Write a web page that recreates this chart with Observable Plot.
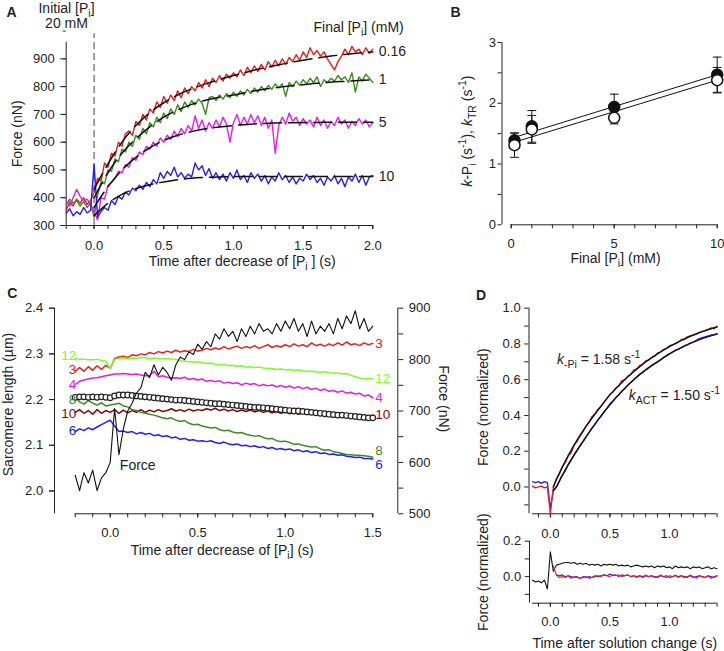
<!DOCTYPE html>
<html>
<head>
<meta charset="utf-8">
<script src="https://cdn.jsdelivr.net/npm/d3@7"></script>
<script src="https://cdn.jsdelivr.net/npm/@observablehq/plot@0.6"></script>
<style>
  body { margin: 0; background: #fff; }
  #fig { position: relative; width: 724px; height: 651px; overflow: hidden; background: #fff; }
  #fig svg { position: absolute; left: 0; top: 0; }
</style>
</head>
<body>
<div id="fig"></div>
<script>
// ================= DATA =================
// ---- Panel A: force traces after [Pi] jump (nN), sampled every 0.025 s from -0.2 s
const aNames = ["0.16", "1", "5", "10"];
const aT0 = -0.2, aDt = 0.025;
const aRed = [355,385,370,395,380,400,375,390,420,470,460,525,510,560,550,600,585,630,640,625,675,660,700,680,720,705,745,725,765,740,770,750,785,760,795,775,800,785,815,795,825,800,830,815,840,820,845,830,850,835,860,840,870,850,875,855,880,860,890,870,895,875,900,880,905,890,915,895,925,905,940,915,930,910,925,900,880,860,890,910,935,915,945,925,935,915,940,920,935];
const aGreen = [375,395,380,390,370,385,365,380,330,410,455,450,500,495,540,530,575,565,600,585,625,610,650,630,670,655,690,670,705,685,720,700,735,710,745,725,750,735,755,740,700,760,765,750,770,755,775,760,780,765,785,770,790,775,795,780,800,785,805,790,810,795,810,765,815,800,820,805,825,810,830,815,835,800,825,815,830,820,840,825,835,815,850,780,835,820,845,830,815];
const aMagenta = [390,370,400,430,405,385,395,375,350,320,400,395,445,455,470,495,490,520,510,545,535,565,555,585,575,600,585,615,600,625,610,640,620,650,630,660,640,695,650,680,640,670,650,680,655,690,665,600,670,700,660,690,665,700,670,695,660,690,650,680,560,660,690,665,705,675,690,660,685,665,680,655,690,660,680,650,675,660,690,665,680,650,675,660,685,665,680,655,670];
const aBlue = [345,360,335,350,340,365,345,355,520,330,350,365,355,390,375,405,395,420,410,435,425,445,430,455,440,465,450,490,470,495,480,510,475,490,470,485,475,525,500,515,480,505,470,490,465,485,460,490,470,500,465,480,455,490,470,485,460,480,450,475,460,490,465,480,455,475,450,470,460,485,465,480,455,470,445,475,460,480,450,470,440,475,460,485,455,480,445,475,480];
// exponential fits (dashed), every 0.1 s from 0
const aFitT0 = 0, aFitDt = 0.1;
const aFitRed = [430,522,600,660,706,742,770,792,810,826,840,853,865,876,886,895,903,910,916,921,925];
const aFitGreen = [400,490,560,612,655,690,716,736,751,762,770,780,789,796,802,807,812,816,819,822,824];
const aFitMagenta = [365,440,500,545,580,606,625,638,648,655,660,664,667,669,670,671,671,672,672,672,672];
const aFitBlue = [335,380,412,433,447,457,465,470,473,475,476,476,476,476,476,476,476,476,476,476,476];
const aXDomain = [-0.2, 2.0], aYDomain = [300, 960];
const aXTickLabels = [0, 0.5, 1, 1.5, 2];
const aYTickLabels = [300, 400, 500, 600, 700, 800, 900];

// ---- Panel B: rate constants vs final [Pi]
const bFinalPi = [0.16, 1, 5, 10];
const bKPi = [1.39, 1.62, 1.94, 2.47];
const bKPiErr = [0.12, 0.26, 0.21, 0.29];
const bKTR = [1.31, 1.57, 1.76, 2.38];
const bKTRErr = [0.20, 0.23, 0.10, 0.21];
const bFitX = [0.16, 10];
const bFitKPi = [1.44, 2.47];
const bFitKTR = [1.36, 2.38];
const bXDomain = [0, 10], bYDomain = [0, 3];
const bXTickLabels = [0, 5, 10];
const bYTickLabels = [0, 1, 2, 3];

// ---- Panel C: sarcomere lengths (µm) and force (nN), every 0.025 s from -0.2 s
const cNames = ["3", "12", "4", "10", "8", "6"];
const cT0 = -0.2, cDt = 0.025;
const cS3 = [2.262,2.270,2.262,2.272,2.264,2.274,2.266,2.275,2.268,2.290,2.293,2.295,2.292,2.298,2.296,2.300,2.298,2.303,2.300,2.305,2.302,2.306,2.303,2.308,2.304,2.307,2.305,2.310,2.306,2.308,2.312,2.309,2.313,2.310,2.316,2.311,2.314,2.317,2.312,2.316,2.313,2.318,2.312,2.316,2.320,2.314,2.318,2.315,2.320,2.316,2.322,2.317,2.320,2.316,2.324,2.318,2.321,2.317,2.322,2.318,2.324,2.319,2.326,2.320,2.322,2.318,2.324,2.320,2.323];
const cS12 = [2.290,2.288,2.288,2.287,2.287,2.288,2.286,2.284,2.268,2.288,2.290,2.291,2.290,2.291,2.290,2.292,2.291,2.290,2.291,2.290,2.289,2.290,2.289,2.288,2.285,2.284,2.283,2.282,2.283,2.281,2.279,2.280,2.277,2.276,2.277,2.274,2.275,2.273,2.274,2.271,2.272,2.270,2.271,2.269,2.268,2.268,2.266,2.267,2.265,2.266,2.264,2.265,2.263,2.262,2.262,2.261,2.260,2.261,2.259,2.258,2.258,2.256,2.257,2.253,2.250,2.247,2.245,2.246,2.246];
const cS4 = [2.233,2.240,2.243,2.245,2.247,2.248,2.250,2.252,2.254,2.256,2.256,2.257,2.256,2.255,2.256,2.254,2.252,2.252,2.262,2.250,2.252,2.249,2.247,2.248,2.246,2.249,2.244,2.246,2.243,2.245,2.240,2.242,2.239,2.241,2.236,2.238,2.235,2.237,2.232,2.236,2.233,2.235,2.230,2.233,2.230,2.232,2.228,2.231,2.227,2.230,2.225,2.228,2.224,2.227,2.222,2.225,2.220,2.223,2.218,2.220,2.216,2.219,2.214,2.216,2.212,2.214,2.208,2.210,2.204];
const cS10 = [2.172,2.178,2.170,2.176,2.168,2.178,2.170,2.176,2.172,2.178,2.170,2.177,2.171,2.176,2.172,2.178,2.172,2.177,2.173,2.178,2.174,2.176,2.180,2.175,2.178,2.174,2.179,2.175,2.178,2.176,2.180,2.177,2.181,2.176,2.179,2.175,2.178,2.174,2.177,2.174,2.177,2.173,2.176,2.172,2.175,2.171,2.174,2.170,2.173,2.169,2.172,2.168,2.171,2.168,2.170,2.167,2.170,2.166,2.169,2.166,2.168,2.165,2.167,2.164,2.167,2.163,2.166,2.164,2.166];
const cS8 = [2.205,2.195,2.190,2.198,2.192,2.188,2.193,2.186,2.188,2.190,2.192,2.186,2.184,2.178,2.176,2.172,2.170,2.168,2.166,2.163,2.160,2.158,2.160,2.155,2.152,2.154,2.148,2.145,2.146,2.142,2.140,2.138,2.139,2.134,2.132,2.133,2.129,2.127,2.128,2.124,2.122,2.120,2.121,2.117,2.114,2.115,2.110,2.108,2.109,2.106,2.102,2.103,2.100,2.098,2.096,2.097,2.092,2.089,2.090,2.086,2.084,2.082,2.080,2.079,2.078,2.078,2.077,2.076,2.074];
const cS6 = [2.130,2.136,2.132,2.138,2.134,2.140,2.145,2.150,2.155,2.142,2.130,2.131,2.128,2.130,2.125,2.128,2.124,2.126,2.121,2.123,2.119,2.121,2.116,2.118,2.113,2.115,2.111,2.112,2.109,2.110,2.108,2.110,2.106,2.104,2.107,2.103,2.101,2.103,2.099,2.100,2.097,2.099,2.095,2.097,2.093,2.095,2.091,2.093,2.090,2.092,2.088,2.090,2.086,2.088,2.084,2.086,2.082,2.083,2.080,2.081,2.078,2.079,2.076,2.075,2.073,2.074,2.071,2.071,2.070];
const cAvg = [2.205,2.206,2.206,2.205,2.206,2.205,2.206,2.205,2.204,2.208,2.210,2.210,2.210,2.209,2.208,2.207,2.206,2.205,2.204,2.203,2.202,2.201,2.200,2.199,2.199,2.198,2.197,2.196,2.195,2.194,2.193,2.192,2.191,2.191,2.190,2.189,2.188,2.187,2.186,2.185,2.184,2.183,2.183,2.182,2.181,2.180,2.179,2.178,2.177,2.176,2.175,2.175,2.174,2.173,2.172,2.171,2.170,2.169,2.168,2.167,2.166,2.166,2.165,2.164,2.163,2.162,2.161,2.160,2.160];
const cForce = [575,545,580,560,585,545,570,580,600,705,615,665,700,715,735,745,775,765,790,770,785,775,760,790,805,800,815,810,830,820,835,825,850,840,860,845,855,835,860,845,865,850,870,855,860,850,870,855,875,860,880,855,870,845,875,850,865,855,870,850,880,860,885,870,895,860,880,855,865];
const cXDomain = [-0.2, 1.5], cYDomain = [1.95, 2.4], cForceDomain = [500, 900];
const cXTickLabels = [0, 0.5, 1, 1.5];
const cYTickLabels = [2.0, 2.1, 2.2, 2.3, 2.4];
const cForceTickLabels = [500, 600, 700, 800, 900];

// ---- Panel D: normalized force, every 0.025 s from -0.15 s
const dT0 = -0.15, dDt = 0.025;
const dRed = [0.005,-0.005,0.0,0.005,-0.005,0.0,-0.15,0.00,0.045,0.07,0.115,0.135,0.175,0.19,0.235,0.255,0.285,0.31,0.34,0.36,0.395,0.41,0.435,0.45,0.475,0.495,0.52,0.53,0.555,0.565,0.595,0.60,0.62,0.63,0.655,0.66,0.68,0.685,0.705,0.71,0.725,0.73,0.75,0.755,0.77,0.775,0.79,0.795,0.80,0.81,0.825,0.825,0.84,0.845,0.85,0.855,0.865,0.87,0.875,0.88,0.89,0.885,0.90];
const dBlue = [0.03,0.025,0.03,0.02,0.03,0.025,-0.12,-0.02,0.0,0.035,0.065,0.09,0.125,0.15,0.18,0.205,0.23,0.255,0.28,0.305,0.33,0.35,0.375,0.395,0.42,0.44,0.465,0.48,0.50,0.515,0.535,0.55,0.57,0.585,0.60,0.615,0.63,0.64,0.655,0.665,0.68,0.69,0.70,0.71,0.725,0.735,0.745,0.755,0.765,0.77,0.78,0.79,0.795,0.805,0.81,0.82,0.83,0.835,0.84,0.845,0.85,0.852,0.858];
const dFitT = [0.025,0.05,0.1,0.15,0.2,0.3,0.4,0.5,0.6,0.7,0.8,0.9,1.0,1.1,1.2,1.3,1.4];
const dFitRed = [0.0,0.04,0.11,0.175,0.235,0.34,0.43,0.515,0.585,0.645,0.70,0.745,0.785,0.82,0.85,0.875,0.895];
const dFitBlue = [-0.02,0.0,0.065,0.125,0.18,0.28,0.375,0.46,0.535,0.60,0.655,0.70,0.745,0.78,0.81,0.835,0.855];
// residuals (lower D)
const dResBlack = [-0.02,-0.03,-0.025,-0.035,-0.02,-0.07,0.14,0.03,0.065,0.07,0.075,0.08,0.08,0.075,0.08,0.07,0.075,0.07,0.075,0.065,0.07,0.065,0.07,0.06,0.07,0.065,0.07,0.065,0.07,0.06,0.065,0.06,0.065,0.055,0.06,0.065,0.06,0.055,0.06,0.055,0.06,0.05,0.06,0.055,0.06,0.05,0.055,0.045,0.06,0.05,0.055,0.05,0.055,0.045,0.055,0.05,0.055,0.045,0.05,0.055,0.045,0.05,0.045];
const dResRedT0 = 0.025;
const dResRed = [0.06,0.01,-0.005,0.0,-0.005,0.005,-0.01,0.0,-0.005,-0.01,-0.005,0.0,-0.01,-0.005,0.0,0.005,0.0,0.01,0.005,0.0,0.01,0.005,0.01,0.0,0.005,0.01,0.0,0.005,-0.005,0.005,0.0,0.01,0.0,0.005,-0.005,0.0,0.01,0.0,-0.005,0.005,0.0,0.01,-0.005,0.005,0.0,-0.005,0.01,0.0,-0.01,0.005,0.0,-0.005,0.005,-0.01,0.0,0.005];
const dResBlueT0 = 0.05;
const dResBlue = [0.01,0.005,0.01,0.0,0.005,0.0,-0.005,0.0,-0.01,0.0,-0.005,0.0,-0.005,0.005,0.0,0.005,0.01,0.005,0.015,0.005,0.01,0.0,0.01,0.005,0.01,0.0,0.005,0.0,0.005,-0.005,0.005,0.0,0.005,0.0,-0.005,0.005,0.0,0.005,-0.005,0.0,0.005,0.0,0.005,-0.005,0.0,0.005,-0.005,0.0,0.005,0.0,-0.005,0.005,0.0,-0.005,0.005];
const dXDomain = [-0.15, 1.4], dYDomain = [-0.15, 1.0], dResDomain = [-0.15, 0.2];
const dXTickLabels = [0, 0.5, 1];
const dYTickLabels = [0, 0.2, 0.4, 0.6, 0.8, 1.0];
const dResTickLabels = [0, 0.2];

// ================= STYLE / LAYOUT =================
const INK = "#222";
const FONT = "'Liberation Sans', Arial, Helvetica, sans-serif";
const W = 724, H = 651;
const colA = {"0.16": "#e0201c", "1": "#3f8a1e", "5": "#e41ee4", "10": "#2a1cf2"};
const colC = {"3": "#e02424", "12": "#7dfa2a", "4": "#e01ee0", "10": "#7a0a0a", "8": "#3d8a26", "6": "#2020f0"};
const frameA = {left: 65.7, right: 372.3, top: 41.7, bottom: 225};
const frameB = {left: 510.7, right: 716.7, top: 42, bottom: 224.3};
const frameC = {left: 74.7, right: 372.3, top: 307.7, bottom: 513.3};
const frameD1 = {left: 532, right: 716.6, top: 307.7, bottom: 513.3};
const frameD2 = {left: 532, right: 716.6, top: 540.7, bottom: 602.7};

const series = (vals, t0, dt) => vals.map((v, i) => ({t: t0 + i * dt, v}));
const byStep = (a, b, s) => d3.range(Math.round(a / s), Math.round(b / s) + 1).map(i => +(i * s).toFixed(4));
const fmt1 = d3.format(".1f");
const fmt0 = d3.format("d");
const blank = () => "";

function base(frame, xDomain, yDomain, marks) {
  return Plot.plot({
    width: W, height: H,
    marginLeft: frame.left, marginRight: W - frame.right,
    marginTop: frame.top, marginBottom: H - frame.bottom,
    x: {domain: xDomain}, y: {domain: yDomain},
    style: {background: "transparent", overflow: "visible", fontFamily: FONT, fontSize: "13px", color: INK},
    marks
  });
}
function axX(ticks, labeled, {pad = 10.5, size = 4, fmt = fmt1} = {}) {
  return Plot.axisX(ticks, {anchor: "bottom", tickSize: size, tickPadding: pad, tickFormat: labeled ? fmt : blank, label: null, fontSize: 13});
}
function axY(ticks, labeled, {pad = 5, size = 5, fmt = fmt1, dx = 0, anchor = "left"} = {}) {
  return Plot.axisY(ticks, {anchor, tickSize: size, tickPadding: pad, tickFormat: labeled ? fmt : blank, label: null, fontSize: 13, dx});
}
function note(s, o) {
  return Plot.text([s], {text: d => d, fontSize: 14, fill: INK, textAnchor: "middle", lineAnchor: "middle", ...o});
}
const capSymbol = {draw(ctx, size) { const w = Math.sqrt(size / Math.PI); ctx.moveTo(-w, 0); ctx.lineTo(w, 0); }};

const fig = document.getElementById("fig");

// ================= PANEL A =================
const aTraces = [aRed, aGreen, aMagenta, aBlue];
const aFits = [aFitRed, aFitGreen, aFitMagenta, aFitBlue];
fig.append(base(frameA, aXDomain, aYDomain, [
  Plot.ruleX([aXDomain[0]], {stroke: INK}),
  Plot.ruleY([aYDomain[0]], {stroke: INK}),
  axX(byStep(-0.2, 2.0, 0.1), false),
  axX(aXTickLabels, true, {pad: 11}),
  axY(aYTickLabels, true, {size: 5.5, pad: 6, fmt: fmt0}),
  axY(byStep(350, 950, 100), false, {size: 3}),
  Plot.ruleX([0], {y1: aYDomain[0], y2: 990, stroke: "#444", strokeDasharray: "7,4"}),
  ...aTraces.map((vals, s) => Plot.line(series(vals, aT0, aDt), {x: "t", y: "v", stroke: colA[aNames[s]], strokeWidth: 1.4})),
  ...aFits.map(vals => Plot.line(series(vals, aFitT0, aFitDt), {x: "t", y: "v", stroke: "#111", strokeWidth: 1.5, strokeDasharray: "18,7", curve: "monotone-x"})),
  Plot.text(aNames.map((n, s) => ({n, t: aFitT0 + (aFits[s].length - 1) * aFitDt, v: aFits[s][aFits[s].length - 1]})),
    {x: "t", y: "v", text: "n", dx: 6, textAnchor: "start", lineAnchor: "middle", fontSize: 14, fill: INK}),
  note("A", {frameAnchor: "top-left", dx: -54.7, dy: -30, fontWeight: "bold", fontSize: 14}),
  note("Initial [P_{i}]", {frameAnchor: "top-left", dx: 0.3, dy: -33.4}),
  note("20 mM", {frameAnchor: "top-left", dx: 0.3, dy: -18.4}),
  note("Final [P_{i}] (mM)", {frameAnchor: "top-left", dx: 247.3, dy: -14.4, textAnchor: "start"}),
  note("Force (nN)", {frameAnchor: "left", rotate: -90, dx: -49}),
  note("Time after decrease of [P_{i} ] (s)", {frameAnchor: "bottom", dx: 22.7, dy: 35.7})
]));

// ================= PANEL B =================
const bRows = (ys, es) => bFinalPi.map((x, i) => ({x, y: ys[i], e: es[i]}));
const bFilled = bRows(bKPi, bKPiErr), bOpen = bRows(bKTR, bKTRErr);
const errMarks = rows => [
  Plot.ruleX(rows, {x: "x", y1: d => d.y - d.e, y2: d => d.y + d.e, stroke: "#111", strokeWidth: 1}),
  Plot.dot(rows, {x: "x", y: d => d.y + d.e, symbol: capSymbol, r: 4.4, fill: "none", stroke: "#111", strokeWidth: 1}),
  Plot.dot(rows, {x: "x", y: d => d.y - d.e, symbol: capSymbol, r: 4.4, fill: "none", stroke: "#111", strokeWidth: 1})
];
fig.append(base(frameB, bXDomain, bYDomain, [
  Plot.ruleX([bXDomain[0]], {dx: -9.2, stroke: INK}),
  Plot.ruleY([bYDomain[0]], {stroke: INK}),
  axX(byStep(0, 10, 1), false),
  axX(bXTickLabels, true, {pad: 10, fmt: fmt0}),
  axY(bYTickLabels, true, {size: 4, pad: 2, fmt: fmt0, dx: -9.2}),
  axY([0.5, 1.5, 2.5], false, {size: 4, dx: -9.2}),
  ...errMarks(bFilled), ...errMarks(bOpen),
  Plot.line(bFitX.map((x, i) => ({x, y: bFitKPi[i]})), {x: "x", y: "y", stroke: "#111", strokeWidth: 1}),
  Plot.line(bFitX.map((x, i) => ({x, y: bFitKTR[i]})), {x: "x", y: "y", stroke: "#111", strokeWidth: 1}),
  Plot.dot(bFilled, {x: "x", y: "y", r: 5.5, fill: "#111", stroke: "#111"}),
  Plot.dot(bOpen, {x: "x", y: "y", r: 5.5, fill: "white", stroke: "#111", strokeWidth: 1.5}),
  note("B", {frameAnchor: "top-left", dx: -55.7, dy: -30, fontWeight: "bold", fontSize: 14}),
  note("*k*-P_{i} (s^{-1}), *k*_{TR} (s^{-1})", {frameAnchor: "left", rotate: -90, dx: -44, dy: -2.5}),
  note("Final [P_{i}] (mM)", {frameAnchor: "bottom", dx: 1.3, dy: 33.4})
]));

// ================= PANEL C =================
const cTraces = {"3": cS3, "12": cS12, "4": cS4, "10": cS10, "8": cS8, "6": cS6};
const toLeft = f => cYDomain[0] + (f - cForceDomain[0]) * (cYDomain[1] - cYDomain[0]) / (cForceDomain[1] - cForceDomain[0]);
const fromLeft = y => cForceDomain[0] + (y - cYDomain[0]) * (cForceDomain[1] - cForceDomain[0]) / (cYDomain[1] - cYDomain[0]);
const nudgeL = {"3": -2, "12": -3, "4": 0, "10": 1.5, "8": 2.5, "6": -1};
const nudgeR = {"3": 0, "12": 0, "4": 0, "10": 0, "8": -6.5, "6": 5.5};
fig.append(base(frameC, cXDomain, cYDomain, [
  Plot.ruleY([cYDomain[0]], {stroke: INK}),
  Plot.ruleX([cXDomain[0]], {dx: -20.7, stroke: INK}),
  Plot.ruleX([cXDomain[1]], {dx: 25, stroke: INK}),
  axX(byStep(-0.2, 1.5, 0.1), false),
  axX(cXTickLabels, true, {pad: 10}),
  axY(cYTickLabels, true, {size: 5, pad: 6.3, dx: -20.7}),
  axY(byStep(1.95, 2.35, 0.1), false, {size: 5, dx: -20.7}),
  axY(cForceTickLabels.map(toLeft), true, {anchor: "right", size: 5, pad: 6, dx: 25, fmt: v => fmt0(Math.round(fromLeft(v)))}),
  axY([550, 650, 750, 850].map(toLeft), false, {anchor: "right", size: 5, dx: 25}),
  ...cNames.map(n => Plot.line(series(cTraces[n], cT0, cDt), {x: "t", y: "v", stroke: colC[n], strokeWidth: 1.5})),
  Plot.dot(series(cAvg, cT0, cDt), {x: "t", y: "v", r: 2.8, fill: "white", stroke: "#222", strokeWidth: 1.2}),
  Plot.line(series(cForce, cT0, cDt).map(d => ({t: d.t, v: toLeft(d.v)})), {x: "t", y: "v", stroke: "#111", strokeWidth: 1.1}),
  ...cNames.map(n => Plot.text([n], {x: cT0, y: cTraces[n][0], text: d => d, textAnchor: "end", lineAnchor: "middle", dx: 1, dy: nudgeL[n], fill: colC[n], fontSize: 13.5})),
  ...cNames.map(n => Plot.text([n], {x: cT0 + (cTraces[n].length - 1) * cDt, y: cTraces[n][cTraces[n].length - 1], text: d => d, textAnchor: "start", lineAnchor: "middle", dx: 2.5, dy: nudgeR[n], fill: colC[n], fontSize: 13.5})),
  note("Force", {x: 0.055, y: toLeft(594), textAnchor: "start"}),
  note("C", {frameAnchor: "top-left", dx: -63, dy: -14.4, fontWeight: "bold", fontSize: 14}),
  note("Sarcomere length (µm)", {frameAnchor: "left", rotate: -90, dx: -66.7, dy: -6.5}),
  note("Force (nN)", {frameAnchor: "right", rotate: 90, dx: 71, dy: -12.2}),
  note("Time after decrease of [P_{i}] (s)", {frameAnchor: "bottom", dx: -1.8, dy: 36.7})
]));

// ================= PANEL D (upper) =================
fig.append(base(frameD1, dXDomain, dYDomain, [
  Plot.ruleY([dYDomain[0]], {stroke: INK}),
  Plot.ruleX([dXDomain[0]], {dx: -3.5, stroke: INK}),
  axX(byStep(-0.1, 1.4, 0.1), false),
  axX(dXTickLabels, true, {pad: 11}),
  axY(dYTickLabels, true, {size: 4.3, pad: 4, dx: -3.5}),
  axY([-0.1, 0.1, 0.3, 0.5, 0.7, 0.9], false, {size: 4.3, dx: -3.5}),
  Plot.line(series(dBlue, dT0, dDt), {x: "t", y: "v", stroke: "#2020f0", strokeWidth: 1.3}),
  Plot.line(series(dRed, dT0, dDt), {x: "t", y: "v", stroke: "#e02020", strokeWidth: 1.3}),
  Plot.line(dFitT.map((t, i) => ({t, v: dFitRed[i]})), {x: "t", y: "v", stroke: "#111", strokeWidth: 1.4, curve: "monotone-x"}),
  Plot.line(dFitT.map((t, i) => ({t, v: dFitBlue[i]})), {x: "t", y: "v", stroke: "#111", strokeWidth: 1.4, curve: "monotone-x"}),
  note("*k*_{-Pi} = 1.58 s^{-1}", {x: 0.056, y: 0.712, textAnchor: "start"}),
  note("*k*_{ACT} = 1.50 s^{-1}", {x: 0.658, y: 0.51, textAnchor: "start"}),
  note("D", {frameAnchor: "top-left", dx: -51.5, dy: -12.7, fontWeight: "bold", fontSize: 14}),
  note("Force (normalized)", {frameAnchor: "left", rotate: -90, dx: -49, dy: -3.8})
]));

// ================= PANEL D (lower, residuals) =================
fig.append(base(frameD2, dXDomain, dResDomain, [
  Plot.ruleY([dResDomain[0]], {stroke: INK}),
  Plot.ruleX([dXDomain[0]], {dx: -3, stroke: INK}),
  axX(byStep(-0.1, 1.4, 0.1), false),
  axX(dXTickLabels, true, {pad: 10}),
  axY(dResTickLabels, true, {size: 4.3, pad: 4, dx: -3}),
  axY([-0.1, 0.1], false, {size: 4.3, dx: -3}),
  Plot.line(series(dResBlack, dT0, dDt), {x: "t", y: "v", stroke: "#111", strokeWidth: 1.1}),
  Plot.line(series(dResBlue, dResBlueT0, dDt), {x: "t", y: "v", stroke: "#2020f0", strokeWidth: 1.1}),
  Plot.line(series(dResRed, dResRedT0, dDt), {x: "t", y: "v", stroke: "#e02020", strokeWidth: 1.1}),
  note("Force (normalized)", {frameAnchor: "left", rotate: -90, dx: -49, dy: 0}),
  note("Time after solution change (s)", {frameAnchor: "bottom", dx: 0, dy: 40.6})
]));

// ============ rich text: subscripts, superscripts, italics ============
const SVGNS = "http://www.w3.org/2000/svg";
function richify(el) {
  const s = el.textContent;
  if (!/[_^]\{|\*/.test(s)) return;
  const fs = parseFloat(getComputedStyle(el).fontSize) || 14;
  const parts = s.split(/(_\{[^}]*\}|\^\{[^}]*\}|\*[^*]+\*)/).filter(p => p);
  el.textContent = "";
  let shift = 0;
  for (const p of parts) {
    const t = document.createElementNS(SVGNS, "tspan");
    let target = 0, txt = p, small = false, italic = false;
    if (p.startsWith("_{")) { target = 0.3 * fs; txt = p.slice(2, -1); small = true; }
    else if (p.startsWith("^{")) { target = -0.42 * fs; txt = p.slice(2, -1); small = true; }
    else if (p.startsWith("*")) { txt = p.slice(1, -1); italic = true; }
    const dy = target - shift;
    if (dy) t.setAttribute("dy", dy.toFixed(2));
    shift = target;
    if (small) t.setAttribute("font-size", (0.75 * fs).toFixed(2));
    if (italic) t.setAttribute("font-style", "italic");
    t.textContent = txt;
    el.appendChild(t);
  }
}
fig.querySelectorAll("text").forEach(richify);
</script>
</body>
</html>
